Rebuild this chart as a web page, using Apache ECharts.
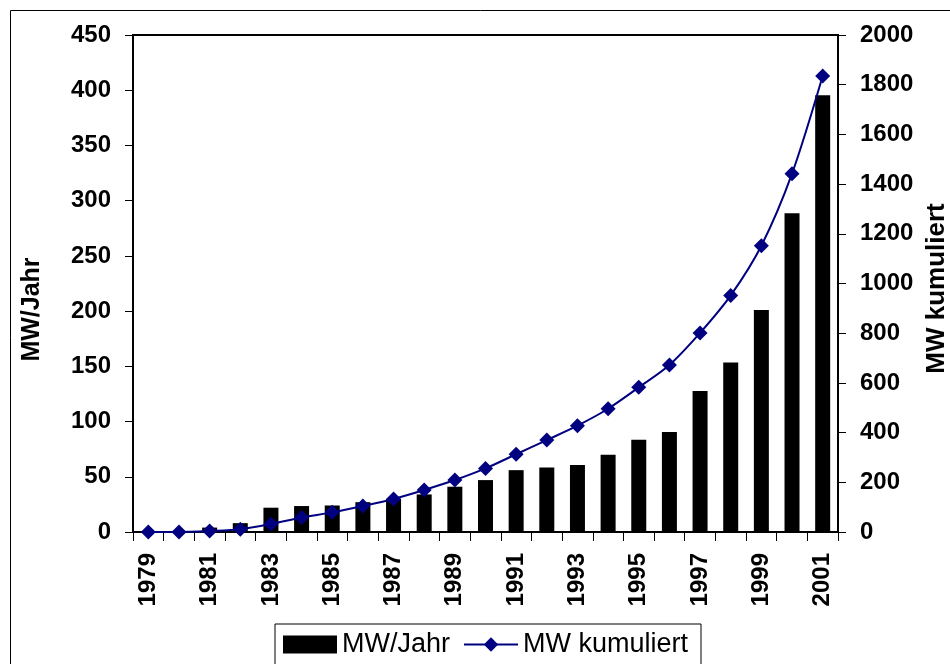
<!DOCTYPE html>
<html>
<head>
<meta charset="utf-8">
<script src="https://cdn.jsdelivr.net/npm/echarts@6/dist/echarts.min.js"></script>
<style>html,body{margin:0;padding:0;background:#fff}#c{width:950px;height:664px}</style>
</head>
<body>
<div id="c"></div>
<script>
const years = ['1979','1980','1981','1982','1983','1984','1985','1986','1987','1988','1989','1990','1991','1992','1993','1994','1995','1996','1997','1998','1999','2000','2001'];
const mwJahr = [0,0,4,8,22,23.5,24,27,30,34,41,47,56,58.5,60.6,70,83.6,90.6,127.6,153.4,201,288.6,395.4];
const mwKumuliert = [0,0,4,11,32,58,79,105,133,169,209,256,313,370,428,496,582,672,801,952,1152,1442,1835];
const leftTicks = {min:0, max:450, interval:50};
const rightTicks = {min:0, max:2000, interval:200};

const FONT = "'Liberation Sans', Arial, sans-serif";
const chart = echarts.init(document.getElementById('c'), null, {renderer:'canvas'});
chart.setOption({
  animation:false,
  backgroundColor:'#fff',
  graphic:[{type:'rect', shape:{x:10.5,y:10.5,width:1000,height:1000}, style:{fill:'none',stroke:'#000',lineWidth:1}, silent:true}],
  grid:{left:133,right:112,top:35,bottom:132,show:true,borderColor:'#000',borderWidth:2,backgroundColor:'transparent',containLabel:false,outerBoundsMode:'none'},
  legend:{
    left:275, top:624, padding:[7,13,8,8], itemGap:13, itemWidth:54, itemHeight:18,
    borderColor:'#000', borderWidth:1, backgroundColor:'#fff',
    textStyle:{fontFamily:FONT, fontSize:27, color:'#000'},
    data:[{name:'MW/Jahr', icon:'rect'}, {name:'MW kumuliert'}]
  },
  xAxis:{
    type:'category', data:years, boundaryGap:true,
    axisLine:{lineStyle:{color:'#000',width:2}},
    axisTick:{show:true, interval:0, length:9, inside:false, lineStyle:{color:'#000',width:1}},
    axisLabel:{interval:1, rotate:90, margin:21, color:'#000', fontFamily:FONT, fontWeight:'bold', fontSize:24},
    splitLine:{show:false}
  },
  yAxis:[{
    type:'value', min:leftTicks.min, max:leftTicks.max, interval:leftTicks.interval, position:'left',
    name:'MW/Jahr', nameLocation:'middle', nameGap:88, nameRotate:90,
    nameTextStyle:{color:'#000', fontFamily:FONT, fontWeight:'bold', fontSize:25, padding:[0,52,0,0]},
    axisLine:{show:true, lineStyle:{color:'#000',width:2}},
    axisTick:{show:true, length:8, lineStyle:{color:'#000',width:1}},
    axisLabel:{margin:22, color:'#000', fontFamily:FONT, fontWeight:'bold', fontSize:24, formatter:(v)=>String(v)},
    splitLine:{show:false}
  },{
    type:'value', min:rightTicks.min, max:rightTicks.max, interval:rightTicks.interval, position:'right',
    name:'MW kumuliert', nameLocation:'middle', nameGap:86, nameRotate:90,
    nameTextStyle:{color:'#000', fontFamily:FONT, fontWeight:'bold', fontSize:26, padding:[0,10,0,0]},
    axisLine:{show:true, lineStyle:{color:'#000',width:2}},
    axisTick:{show:true, length:8, lineStyle:{color:'#000',width:1}},
    axisLabel:{margin:22, color:'#000', fontFamily:FONT, fontWeight:'bold', fontSize:24, formatter:(v)=>String(v)},
    splitLine:{show:false}
  }],
  series:[{
    name:'MW/Jahr', type:'bar', data:mwJahr, yAxisIndex:0, barWidth:15,
    itemStyle:{color:'#000'}
  },{
    name:'MW kumuliert', type:'line', data:mwKumuliert, yAxisIndex:1,
    smooth:0.3, symbol:'diamond', symbolSize:15, showSymbol:true,
    lineStyle:{color:'#000080', width:2}, itemStyle:{color:'#000080'}
  }]
});
</script>
</body>
</html>
